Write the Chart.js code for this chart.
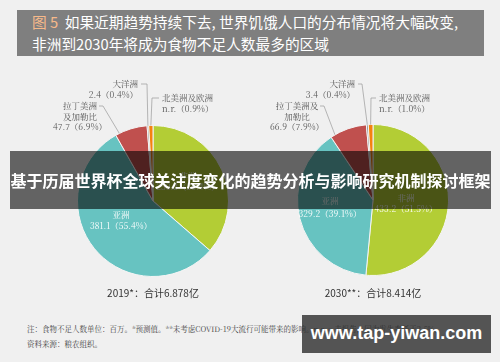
<!DOCTYPE html>
<html>
<head>
<meta charset="utf-8">
<script src="https://cdn.jsdelivr.net/npm/chart.js@4.4.0/dist/chart.umd.min.js"></script>
<style>
  body { margin: 0; background: #f0f0f0; }
  #page { position: relative; width: 500px; height: 362px; background: #f0f0f0; overflow: hidden;
          font-family: "Noto Sans CJK SC", "Noto Sans", sans-serif; }
  #title { position: absolute; left: 17px; top: 10px; width: 452px; height: 45px; padding: 1px 0 0 15px;
           background: #7f7f7f; color: #fff; font-size: 14.7px; line-height: 22px; white-space: nowrap; }
  #title .fig { color: #f6b98a; }
  canvas { position: absolute; top: 60px; }
  #c2019 { left: 0; }
  #c2030 { left: 250px; }
  #note { position: absolute; left: 27px; top: 321px; font-size: 7.5px; line-height: 15px; color: #444;
          white-space: nowrap; font-family: "Noto Serif CJK SC", "Noto Sans CJK SC", serif; }
  #banner { position: absolute; left: 10px; top: 151px; width: 481px; height: 58px; background: rgba(0,0,0,0.59);
            color: #fff; font-weight: bold; font-size: 16px; line-height: 58px; text-align: center; white-space: nowrap; }
  #mark { position: absolute; left: 302px; top: 315px; width: 189px; height: 38px; background: rgba(45,45,45,0.8);
          color: #fff; font-family: "Liberation Sans", Arial, sans-serif; font-weight: bold; font-size: 18px;
          line-height: 36px; text-align: center; white-space: nowrap; }
</style>
</head>
<body>
<div id="page">
  <div id="title"><span class="fig">图 5</span>&nbsp; 如果近期趋势持续下去, 世界饥饿人口的分布情况将大幅改变,<br>非洲到2030年将成为食物不足人数最多的区域</div>
  <canvas id="c2019" width="250" height="250"></canvas>
  <canvas id="c2030" width="250" height="250"></canvas>
  <div id="note">注：食物不足人数单位：百万。*预测值。**未考虑COVID-19大流行可能带来的影响。n.r. = 未报告，因为发生率低于2.5%。<br>资料来源：粮农组织。</div>
  <div id="banner">基于历届世界杯全球关注度变化的趋势分析与影响研究机制探讨框架</div>
  <div id="mark">www.tap-yiwan.com</div>
</div>
<script>
// 食物不足人数（百万）
var regions = ['非洲', '亚洲', '拉丁美洲及加勒比', '大洋洲', '北美洲及欧洲'];
var values2019 = [250.3, 381.1, 47.7, 2.4, 6.2];
var values2030 = [433.2, 329.2, 66.9, 3.4, 8.4];
var shares2019 = ['36.4%', '55.4%', '6.9%', '0.4%', '0.9%'];
var shares2030 = ['51.5%', '39.1%', '7.9%', '0.4%', '1.0%'];
var reported = [true, true, true, true, false];
var totals = ['2019*：合计6.878亿', '2030**：合计8.414亿'];
var colors = ['#b3cd35', '#67c3c1', '#c0504e', '#8c8c8c', '#f5820f'];

function valueText(values, shares, i) {
  return (reported[i] ? values[i].toFixed(1) : 'n.r.') + '（' + shares[i] + '）';
}

var pieLabels = {
  id: 'pieLabels',
  afterDraw: function(chart, args, opts) {
    var ctx = chart.ctx;
    var meta = chart.getDatasetMeta(0);
    var values = opts.values, shares = opts.shares;
    ctx.save();
    ctx.textBaseline = 'middle';
    ctx.font = '8.5px "Noto Serif CJK SC", "Noto Sans CJK SC", serif';

    // labels inside the slices
    opts.inner.forEach(function(l) {
      ctx.fillStyle = '#ffffff';
      ctx.textAlign = 'center';
      ctx.fillText(regions[l.idx], l.x, l.y);
      ctx.fillText(valueText(values, shares, l.idx), l.x, l.y + l.gap);
    });

    // labels outside with leader lines
    opts.outer.forEach(function(l) {
      var name = regions[l.idx];
      var lines = l.split ? [name.slice(0, l.split), name.slice(l.split)] : [name];
      lines.push(valueText(values, shares, l.idx));
      ctx.fillStyle = '#555';
      ctx.textAlign = l.align;
      lines.forEach(function(t, k) { ctx.fillText(t, l.x, l.y + k * 10.5); });

      var arc = meta.data[l.idx];
      var a = arc.startAngle + l.frac * (arc.endAngle - arc.startAngle);
      var ex = arc.x + Math.cos(a) * arc.outerRadius;
      var ey = arc.y + Math.sin(a) * arc.outerRadius;
      ctx.strokeStyle = '#9a9a9a';
      ctx.lineWidth = 0.7;
      ctx.beginPath();
      ctx.moveTo(l.lead[0][0], l.lead[0][1]);
      for (var k = 1; k < l.lead.length; k++) ctx.lineTo(l.lead[k][0], l.lead[k][1]);
      ctx.lineTo(ex, ey);
      ctx.stroke();
    });

    ctx.fillStyle = '#333';
    ctx.textAlign = 'center';
    ctx.font = '10px "Noto Sans CJK SC", sans-serif';
    ctx.fillText(opts.total, meta.data[0].x, opts.totalY);
    ctx.restore();
  }
};

function makePie(id, values, shares, total, padding, inner, outer) {
  return new Chart(document.getElementById(id), {
    type: 'pie',
    data: {
      labels: regions,
      datasets: [{
        data: values,
        backgroundColor: colors,
        borderColor: '#f4f4f4',
        borderWidth: 1
      }]
    },
    options: {
      responsive: false,
      animation: false,
      layout: { padding: padding },
      plugins: {
        legend: { display: false },
        tooltip: { enabled: false },
        pieLabels: { values: values, shares: shares, total: total, totalY: 233, inner: inner, outer: outer }
      }
    },
    plugins: [pieLabels]
  });
}

makePie('c2019', values2019, shares2019, totals[0],
  { left: 77, right: 21, top: 65, bottom: 33 },
  [ { idx: 0, x: 188, y: 116, gap: 11 },
    { idx: 1, x: 121, y: 155, gap: 11 } ],
  [ { idx: 3, align: 'right', x: 138, y: 24, frac: 0.5, lead: [[141, 24], [147, 24]] },
    { idx: 4, align: 'left', x: 162, y: 38, frac: 0.5, lead: [[159, 38], [152, 38]] },
    { idx: 2, align: 'center', x: 80, y: 46, split: 4, frac: 0.12, lead: [[99, 46], [103, 46]] } ]);

makePie('c2030', values2030, shares2030, totals[1],
  { left: 47, right: 51, top: 64, bottom: 34 },
  [ { idx: 0, x: 156, y: 138, gap: 10.5 },
    { idx: 1, x: 80, y: 141, gap: 13 } ],
  [ { idx: 3, align: 'right', x: 105, y: 24, frac: 0.5, lead: [[108, 24], [112, 24]] },
    { idx: 4, align: 'left', x: 129, y: 38, frac: 0.5, lead: [[126, 38], [121, 38]] },
    { idx: 2, align: 'center', x: 47, y: 46, split: 5, frac: 0.12, lead: [[70, 46], [74, 46]] } ]);
</script>
</body>
</html>
